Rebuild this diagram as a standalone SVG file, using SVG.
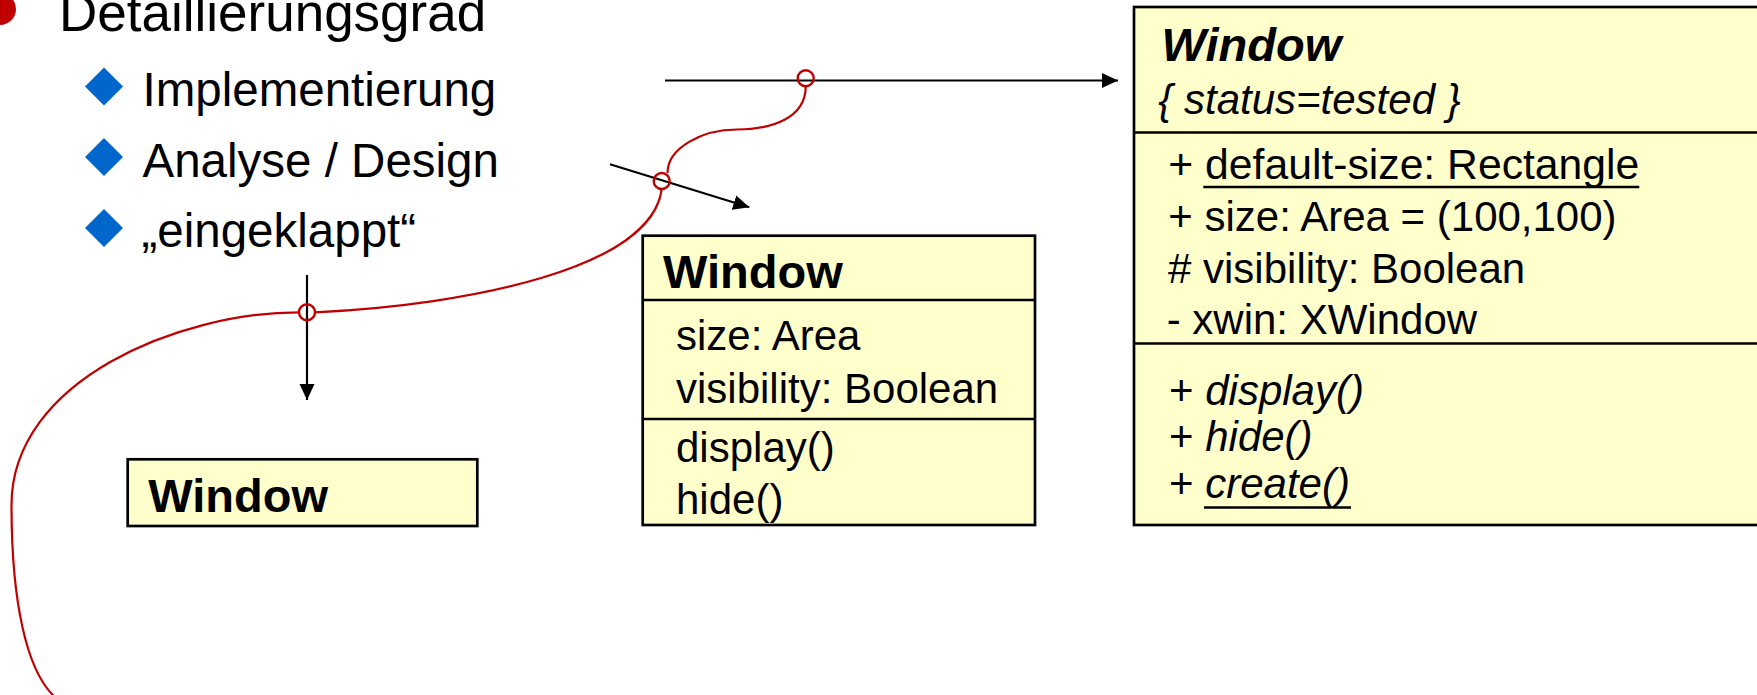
<svg xmlns="http://www.w3.org/2000/svg" width="1757" height="695" viewBox="0 0 1757 695">
  <style>
    .txt { font-family: "Liberation Sans", Arial, sans-serif; fill: #000; }
    .title { font-size: 53px; }
    .item { font-size: 47.5px; }
    .name { font-size: 47px; font-weight: bold; }
    .member { font-size: 42px; }
    .ital { font-style: italic; }
    .box { fill: #FFFFCC; stroke: #000; stroke-width: 2.7; }
    .sep { stroke: #000; stroke-width: 2.7; fill: none; }
    .uline { stroke: #000; stroke-width: 2.6; }
    .arrow { stroke: #000; stroke-width: 2.2; fill: none; marker-end: url(#head); }
    .wire { stroke: #C00000; stroke-width: 2.2; fill: none; }
    .joint { stroke: #C00000; stroke-width: 2.4; fill: none; }
    .diamond { fill: #0066CC; }
  </style>
  <defs>
    <marker id="head" markerUnits="userSpaceOnUse" markerWidth="17" markerHeight="16" refX="16" refY="7.5" orient="auto">
      <path d="M0,0 L16,7.5 L0,15 z" fill="#000"/>
    </marker>
  </defs>
  <rect width="1757" height="695" fill="#fff"/>

  <!-- bullet list -->
  <g id="outline">
    <circle cx="0" cy="9" r="16" fill="#C00000"/>
    <text class="txt title" x="59" y="31">Detaillierungsgrad</text>
    <path class="diamond" d="M104,67.5 L123,86.5 L104,105.5 L85,86.5 z"/>
    <text class="txt item" x="142.5" y="105.5">Implementierung</text>
    <path class="diamond" d="M104,138 L123,157 L104,176 L85,157 z"/>
    <text class="txt item" x="142.5" y="176.5">Analyse / Design</text>
    <path class="diamond" d="M104,209 L123,228 L104,247 L85,228 z"/>
    <text class="txt item" x="141.5" y="246.5">„eingeklappt“</text>
  </g>

  <!-- collapsed class -->
  <g id="class-collapsed">
    <rect class="box" x="127.7" y="459.3" width="349.6" height="66.7"/>
    <text class="txt name" x="148.3" y="511.7">Window</text>
  </g>

  <!-- analysis / design class -->
  <g id="class-design">
    <rect class="box" x="642.7" y="235.7" width="392.3" height="289.3"/>
    <line class="sep" x1="642.7" y1="300" x2="1035" y2="300"/>
    <line class="sep" x1="642.7" y1="419" x2="1035" y2="419"/>
    <text class="txt name" x="663" y="287.5">Window</text>
    <text class="txt member" x="676" y="350">size: Area</text>
    <text class="txt member" x="676" y="402.5">visibility: Boolean</text>
    <text class="txt member" x="676" y="462">display()</text>
    <text class="txt member" x="676" y="513.5">hide()</text>
  </g>

  <!-- implementation class -->
  <g id="class-implementation">
    <rect class="box" x="1134" y="7" width="640" height="518"/>
    <line class="sep" x1="1134" y1="132.5" x2="1760" y2="132.5"/>
    <line class="sep" x1="1134" y1="343.5" x2="1760" y2="343.5"/>
    <text class="txt name ital" x="1161.5" y="60.5">Window</text>
    <text class="txt member ital" x="1158.3" y="114">{ status=tested }</text>
    <text class="txt member" x="1168.3" y="179" textLength="471" lengthAdjust="spacingAndGlyphs">+ default-size: Rectangle</text>
    <line class="uline" x1="1203.3" y1="187" x2="1639.3" y2="187"/>
    <text class="txt member" x="1168.3" y="230.5">+ size: Area = (100,100)</text>
    <text class="txt member" x="1168" y="283"># visibility: Boolean</text>
    <text class="txt member" x="1166.7" y="334">- xwin: XWindow</text>
    <text class="txt member" x="1169" y="404.5">+ <tspan class="ital">display()</tspan></text>
    <text class="txt member" x="1169" y="451">+ <tspan class="ital">hide()</tspan></text>
    <text class="txt member" x="1169" y="497.5">+ <tspan class="ital">create()</tspan></text>
    <line class="uline" x1="1204" y1="507.5" x2="1351" y2="507.5"/>
  </g>

  <!-- connectors -->
  <g id="connectors">
    <line class="arrow" x1="665" y1="80.5" x2="1118" y2="80.5"/>
    <line class="arrow" x1="610" y1="164.3" x2="749.3" y2="207.3"/>
    <line class="arrow" x1="307" y1="275" x2="307" y2="400"/>
    <path class="wire" d="M805.7,86.5 C805.7,118 772,129.5 737,129.5 C702,129.5 667.5,148 667.5,173"/>
    <path class="wire" d="M661.7,189 C652,268 470,305 315,312.3"/>
    <path class="wire" d="M299,312.3 C180,312.3 11.5,380 11.5,505 C11.5,600 26,672 56,698"/>
    <circle class="joint" cx="805.7" cy="78.2" r="8"/>
    <circle class="joint" cx="661.7" cy="181" r="8"/>
    <circle class="joint" cx="307" cy="312.3" r="8"/>
  </g>
</svg>
